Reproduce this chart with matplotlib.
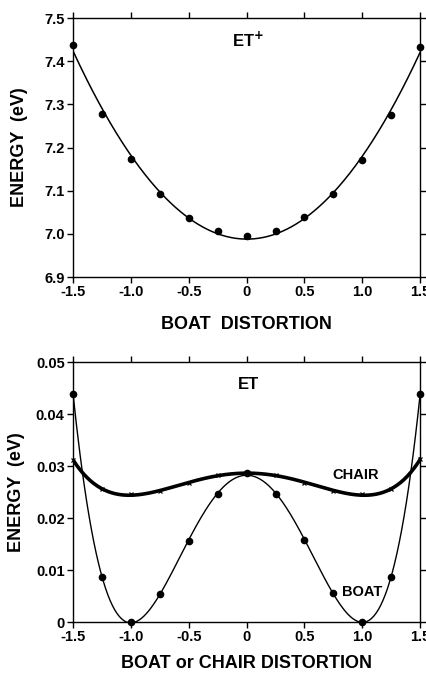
import numpy as np
import matplotlib
matplotlib.use("Agg")
import matplotlib.pyplot as plt

plt.rcParams['font.family'] = ['Liberation Sans', 'DejaVu Sans']
plt.rcParams['font.weight'] = 'bold'

# distortion coordinate
x = [-1.5, -1.25, -1.0, -0.75, -0.5, -0.25, 0.0, 0.25, 0.5, 0.75, 1.0, 1.25, 1.5]

# ET+ boat distortion energies (eV)
et_plus = [7.438, 7.278, 7.173, 7.092, 7.037, 7.007, 6.996, 7.007, 7.038, 7.092, 7.171, 7.275, 7.434]

# ET boat / chair distortion energies (eV)
et_boat = [0.0439, 0.0087, 0.0, 0.0053, 0.0156, 0.0246, 0.0287, 0.0247, 0.0157, 0.0055, 0.0, 0.0087, 0.0439]
et_chair = [0.0312, 0.0255, 0.0246, 0.0252, 0.0267, 0.0282, 0.0287, 0.0282, 0.0268, 0.0252, 0.0246, 0.0255, 0.0313]

xticks = [-1.5, -1.0, -0.5, 0, 0.5, 1.0, 1.5]
xticklabels = ['-1.5', '-1.0', '-0.5', '0', '0.5', '1.0', '1.5']

fig = plt.figure(figsize=(4.27, 6.75), dpi=100)
ax1 = fig.add_axes([0.171, 0.5896, 0.813, 0.3837])
ax2 = fig.add_axes([0.171, 0.0785, 0.813, 0.3852])

xs = np.linspace(-1.5, 1.5, 300)


def style(ax):
    ax.set_xlim(-1.5, 1.5)
    ax.set_xticks(xticks)
    ax.set_xticklabels(xticklabels)
    ax.tick_params(direction='out', length=4, width=1, top=True, right=True,
                   labelsize=10.5, pad=2)
    for s in ax.spines.values():
        s.set_linewidth(1)
    for lab in ax.get_xticklabels() + ax.get_yticklabels():
        lab.set_fontweight('bold')


# top panel: quadratic fit through the ET+ points
fit1 = np.polyfit(x, et_plus, 2)
ax1.plot(xs, np.polyval(fit1, xs), color='black', lw=1.1)
ax1.plot(x, et_plus, 'o', color='black', ms=4.5, clip_on=False)
ax1.set_ylim(6.9, 7.5)
ax1.set_yticks([6.9, 7.0, 7.1, 7.2, 7.3, 7.4, 7.5])
ax1.set_yticklabels(['6.9', '7.0', '7.1', '7.2', '7.3', '7.4', '7.5'])
style(ax1)
ax1.set_xlabel('BOAT  DISTORTION', fontsize=13, fontweight='bold', labelpad=12)
ax1.set_ylabel('ENERGY  (eV)', fontsize=13, fontweight='bold', labelpad=12)
ax1.text(0.01, 7.449, r'ET$^{\mathbf{+}}$', ha='center', va='center',
         fontsize=12, fontweight='bold')

# bottom panel
fitb = np.polyfit(x, et_boat, 4)
fitc = np.polyfit(x, et_chair, 6)
ax2.plot(xs, np.polyval(fitb, xs), color='black', lw=1.0)
ax2.plot(x, et_boat, 'o', color='black', ms=4.5, clip_on=False)
ax2.plot(xs, np.polyval(fitc, xs), color='black', lw=2.6)
ax2.plot(x, et_chair, 'x', color='black', ms=3.5, mew=0.9, clip_on=False)
ax2.set_ylim(0, 0.05)
ax2.set_yticks([0, 0.01, 0.02, 0.03, 0.04, 0.05])
ax2.set_yticklabels(['0', '0.01', '0.02', '0.03', '0.04', '0.05'])
style(ax2)
ax2.set_xlabel('BOAT or CHAIR DISTORTION', fontsize=13, fontweight='bold', labelpad=8)
ax2.set_ylabel('ENERGY  (eV)', fontsize=13, fontweight='bold', labelpad=8)
ax2.text(0.02, 0.0456, 'ET', ha='center', va='center', fontsize=12, fontweight='bold')
ax2.text(0.94, 0.0283, 'CHAIR', ha='center', va='center', fontsize=10.5, fontweight='bold')
ax2.text(1.0, 0.0058, 'BOAT', ha='center', va='center', fontsize=10.5, fontweight='bold')

fig.savefig('out.png', dpi=100)
